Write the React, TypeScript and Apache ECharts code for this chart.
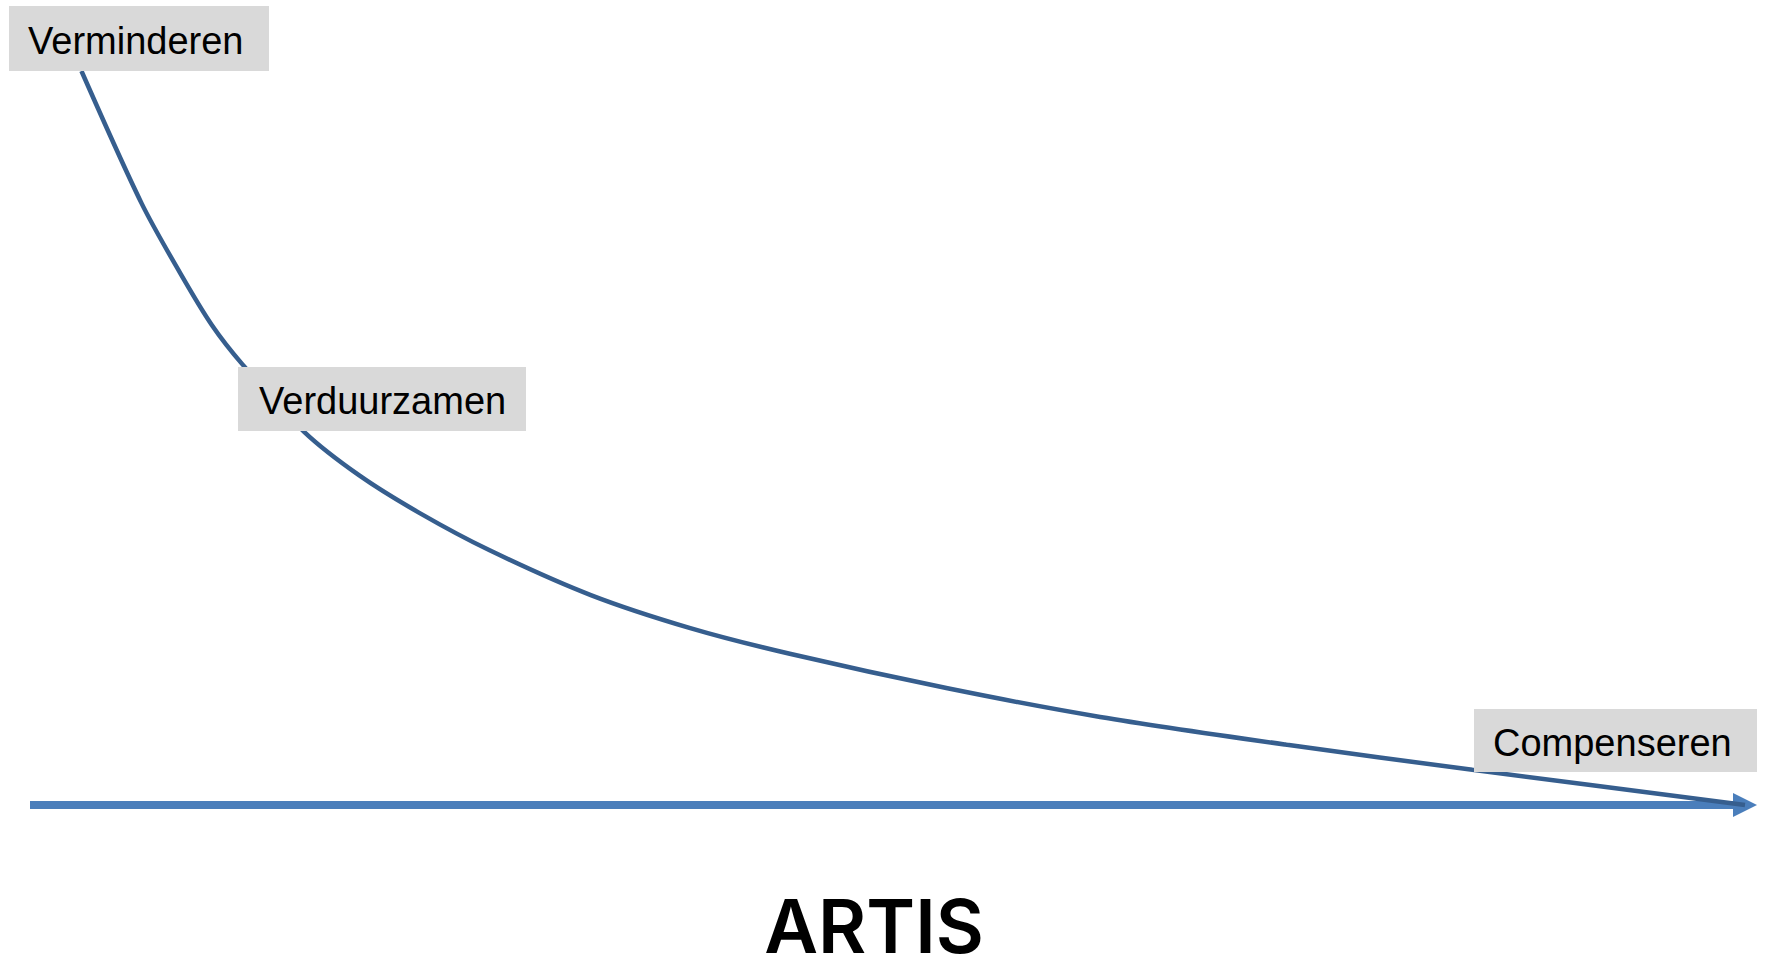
import React, { useEffect, useRef } from "react";
import * as echarts from "echarts";

// Conceptual curve: emissions (y, 0-100) over time (x, 0-100)
const curveX = [3.0, 6.5, 8.75, 10.6, 12.4, 16.0, 19.2, 22.7, 26.8, 32.7, 38.5, 44.3, 53.5, 62.4, 73.3, 84.1, 100];
const curveY = [100, 82.0, 72.5, 65.4, 60.0, 50.8, 44.9, 39.8, 34.7, 28.6, 24.1, 20.6, 15.9, 12.0, 8.2, 4.8, 0];

const stageLabels = ["Verminderen", "Verduurzamen", "Compenseren"];
const logoText = "ARTIS";

export default function App() {
  const ref = useRef<HTMLDivElement>(null);

  useEffect(() => {
    if (!ref.current) return;
    const chart = echarts.init(ref.current, null, { renderer: "svg" });
    const data = curveX.map((x, i) => [x, curveY[i]]);
    const labelFont = '38px "Liberation Sans", Arial, sans-serif';
    const box = (x: number, y: number, w: number, h: number, text: string, tx: number) => ({
      type: "group",
      z: 10,
      children: [
        { type: "rect", shape: { x, y, width: w, height: h }, style: { fill: "#D9D9D9" }, z: 10 },
        {
          type: "text",
          x: tx,
          y: y + h / 2 + 2,
          z: 11,
          style: { text, fill: "#000", font: labelFont, align: "left", verticalAlign: "middle" },
        },
      ],
    });
    chart.setOption({
      animation: false,
      backgroundColor: "#ffffff",
      grid: { left: 30, right: 23, top: 71, bottom: 166, containLabel: false },
      xAxis: {
        type: "value",
        min: 0,
        max: 100,
        axisLine: {
          show: true,
          onZero: true,
          symbol: ["none", "triangle"],
          symbolSize: [24, 24],
          lineStyle: { color: "#4A7EBB", width: 8, cap: "butt" },
        },
        axisTick: { show: false },
        axisLabel: { show: false },
        splitLine: { show: false },
      },
      yAxis: {
        type: "value",
        min: 0,
        max: 100,
        show: false,
        splitLine: { show: false },
      },
      series: [
        {
          type: "line",
          data,
          smooth: 0.3,
          showSymbol: false,
          symbol: "none",
          clip: false,
          z: 5,
          lineStyle: { color: "#365E8E", width: 4.5 },
        },
      ],
      graphic: [
        box(9, 6, 260, 65, stageLabels[0], 28),
        box(238, 367, 288, 64, stageLabels[1], 259),
        box(1474, 709, 283, 63, stageLabels[2], 1493),
        {
          type: "text",
          x: 874,
          y: 926,
          z: 10,
          style: {
            text: logoText,
            fill: "#000",
            font: '600 74px Inter, "Liberation Sans", sans-serif',
            align: "center",
            verticalAlign: "middle",
          },
        },
      ],
    });
    return () => chart.dispose();
  }, []);

  return (
    <div
      ref={ref}
      style={{ position: "absolute", left: 0, top: 0, width: 1768, height: 971, background: "#fff" }}
    />
  );
}
